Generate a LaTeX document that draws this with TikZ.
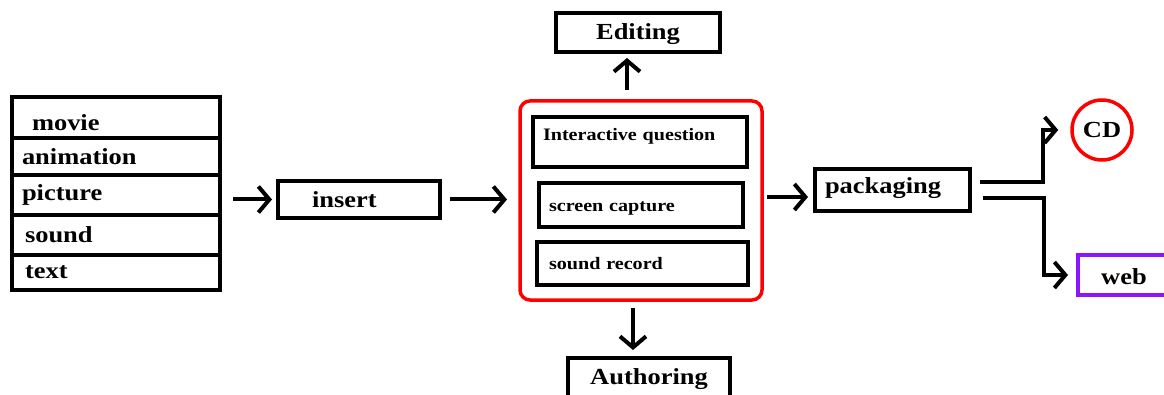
\documentclass[tikz,border=0pt]{standalone}
\usepackage{fontspec}
\setmainfont[FakeStretch=1.15]{Liberation Serif}
\usetikzlibrary{arrows.meta,positioning}
\definecolor{webpurple}{RGB}{140,20,255}

\begin{document}
\begin{tikzpicture}[x=1pt,y=-1pt,
  box/.style={draw,line width=4.5pt,inner sep=0pt,outer sep=0pt,font=\bfseries\fontsize{23}{26}\selectfont},
  row/.style={box,text width=188pt,inner xsep=10pt,align=left,minimum height=#1},
  tool/.style={draw,line width=4.5pt,outer sep=0pt,inner ysep=0pt,align=left,font=\bfseries\fontsize{17.5}{20}\selectfont},
  arr/.style={line width=4pt,-{Straight Barb[length=11pt,width=26pt]}}]
  \useasboundingbox (0,0) rectangle (1164,395);
  \clip (0,0) rectangle (1164,395);

  % media list
  \node[row=41pt,text height=26pt] (movie) at (116,117.5) {\hspace*{10pt}movie};
  \node[row=37pt] (anim) [below=0pt of movie] {animation};
  \node[row=40pt] (pict) [below=0pt of anim] {picture};
  \node[row=40pt] (sound) [below=0pt of pict] {\hspace*{3pt}sound};
  \node[row=35pt] (text) [below=0pt of sound] {\hspace*{3pt}text};

  \node[box,text width=94pt,inner xsep=34pt,align=left,minimum height=37pt] (insert) at (359,199.5) {insert};

  % authoring tools
  \node[draw=red,line width=3.5pt,rounded corners=10pt,minimum width=242pt,minimum height=199pt,outer sep=0pt] (tools) at (641,200.5) {};
  \node[tool,text width=194pt,inner xsep=10pt,minimum height=50pt,text depth=16pt] (quest) at (640,142) {Interactive question};
  \node[tool,text width=184pt,inner xsep=10pt,minimum height=44pt,text height=16pt] (screen) at (641,205) {screen capture};
  \node[tool,text width=187pt,inner xsep=12pt,minimum height=43pt] (record) at (642.5,263.5) {sound record};

  \node[box,minimum width=164pt,minimum height=39pt,text height=19pt] (edit) at (638,32.5) {Editing};
  \node[box,minimum width=162pt,minimum height=42pt] (auth) at (649,379) {Authoring};

  \node[box,text width=135pt,inner xsep=10pt,align=left,minimum height=42pt,text depth=8pt] (pack) at (892.5,190) {packaging};
  \node[circle,draw=red,line width=3.5pt,minimum size=60pt,inner sep=0pt,font=\bfseries\fontsize{23}{26}\selectfont] (cd) at (1102,130) {CD};
  \node[box,draw=webpurple,line width=4pt,minimum width=92pt,minimum height=40pt,text height=19pt] (web) at (1124,275) {web};

  % connectors
  \draw[arr,shorten <=13pt,shorten >=6pt] (insert.west -| pict.east) -- (insert.west);
  \draw[arr,shorten <=10pt,shorten >=13pt] (insert.east) -- (insert.east -| tools.west);
  \coordinate (pin) at ([yshift=-7pt]pack.west);
  \draw[arr,shorten <=5pt,shorten >=7pt] (pin -| tools.east) -- (pin);
  \coordinate (eup) at ([xshift=-14pt]tools.north);
  \draw[arr,shorten <=11pt,shorten >=6pt] (eup) -- (eup |- edit.south);
  \coordinate (adn) at ([xshift=-8pt]tools.south);
  \draw[arr,shorten <=8pt,shorten >=8pt] (adn) -- (adn |- auth.north);
  \coordinate (up) at ([shift={(10pt,8pt)}]pack.east);
  \draw[arr,shorten >=12pt] (up) -- ++(63,0) |- (cd.west);
  \coordinate (lo) at ([shift={(13pt,-8pt)}]pack.east);
  \draw[arr,shorten >=10pt] (lo) -- ++(61,0) |- (web.west);
\end{tikzpicture}
\end{document}
